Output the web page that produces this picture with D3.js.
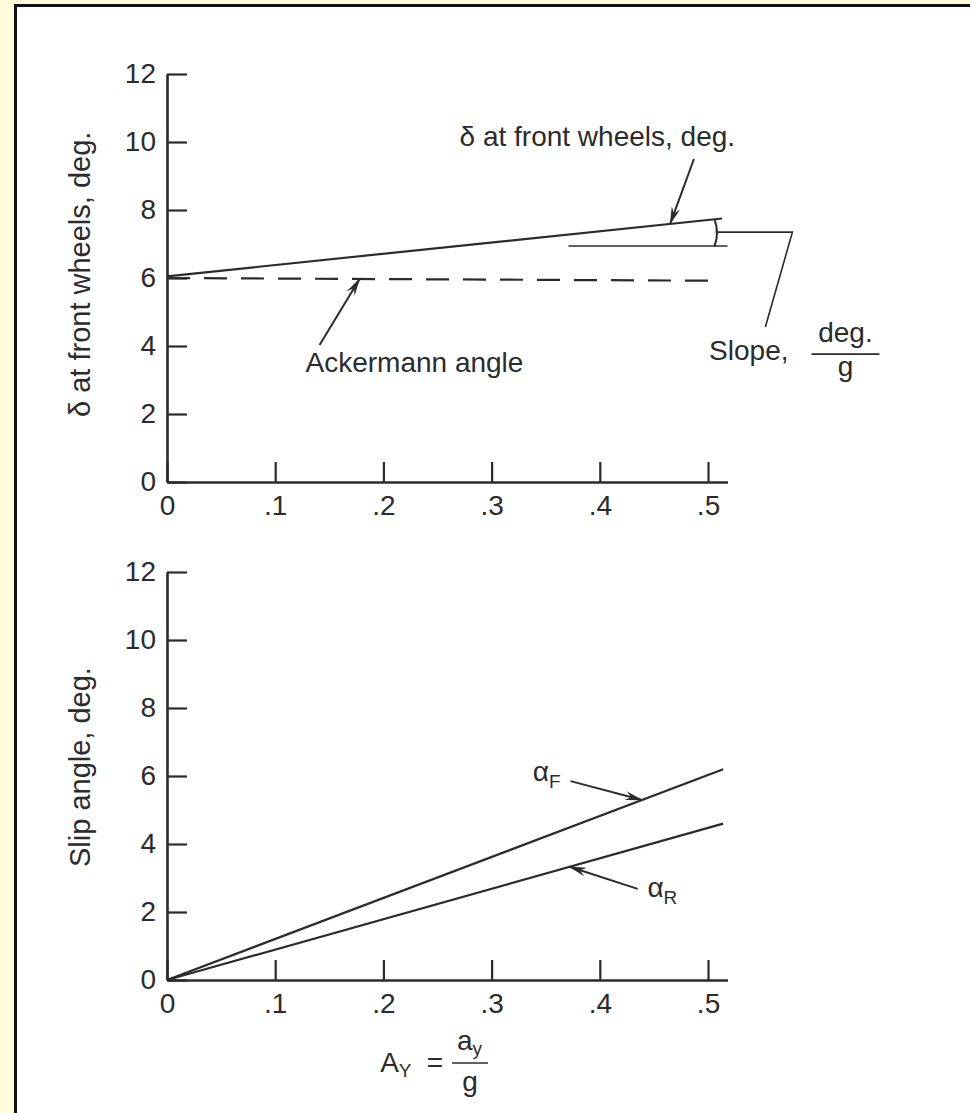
<!DOCTYPE html>
<html>
<head>
<meta charset="utf-8">
<script src="https://cdn.jsdelivr.net/npm/d3@7"></script>
<style>
    body {
        margin: 0;
        padding: 0;
        background: #fffcdc;
        font-family: "Liberation Sans", Arial, sans-serif;
    }
    svg { display: block; }
    text {
        fill: #2b2b2b;
        font-size: 28px;
        font-family: "Liberation Sans", Arial, sans-serif;
    }
    .ylabel { font-size: 29px; }
    .sub { font-size: 19px; }
</style>
</head>
<body>
<script>
    var AY_TICKS = [0, 0.1, 0.2, 0.3, 0.4, 0.5];
    var AY_LABELS = ["0", ".1", ".2", ".3", ".4", ".5"];
    var DEG_TICKS = [0, 2, 4, 6, 8, 10, 12];

    // top panel: steer angle at the front wheels vs lateral acceleration
    var steerAy = [0, 0.513];
    var steerDelta = [6.05, 7.75];
    var ackermannAy = [0, 0.505];
    var ackermannDelta = [6.0, 5.92];

    // bottom panel: slip angles
    var slipAy = [0, 0.514];
    var alphaF = [0, 6.2];
    var alphaR = [0, 4.6];

    var INK = "#2b2b2b";

    var svg = d3.select("body").append("svg")
        .attr("width", 970)
        .attr("height", 1113);

    // frame: black rule on top and left, white sheet
    svg.append("rect").attr("x", 14).attr("y", 4).attr("width", 956).attr("height", 1109).attr("fill", "#111");
    svg.append("rect").attr("x", 17).attr("y", 7).attr("width", 953).attr("height", 1106).attr("fill", "#fff");

    svg.append("defs").append("marker")
        .attr("id", "arrow")
        .attr("viewBox", "0 0 18 9")
        .attr("refX", 17)
        .attr("refY", 4.5)
        .attr("markerUnits", "userSpaceOnUse")
        .attr("markerWidth", 18)
        .attr("markerHeight", 9)
        .attr("orient", "auto")
        .append("path")
        .attr("d", "M0,0 L18,4.5 L0,9 L6,4.5 Z")
        .attr("fill", INK);

    var x = d3.scaleLinear().domain([0, 0.518]).range([167, 727.5]);
    var yTop = d3.scaleLinear().domain([0, 12]).range([482, 74]);
    var yBot = d3.scaleLinear().domain([0, 12]).range([980, 572]);

    function drawAxes(y) {
        var gx = svg.append("g")
            .attr("transform", "translate(0," + y(0) + ")")
            .call(d3.axisBottom(x)
                .tickValues(AY_TICKS)
                .tickFormat(function(d, i) { return AY_LABELS[i]; })
                .tickSize(-20)
                .tickSizeOuter(0)
                .tickPadding(13));
        var gy = svg.append("g")
            .attr("transform", "translate(" + x(0) + ",0)")
            .call(d3.axisLeft(y)
                .tickValues(DEG_TICKS)
                .tickFormat(d3.format("d"))
                .tickSize(-20)
                .tickSizeOuter(0)
                .tickPadding(11));
        [gx, gy].forEach(function(g) {
            g.select(".domain").attr("stroke", INK).attr("stroke-width", 2.6);
            g.selectAll(".tick line").attr("stroke", INK).attr("stroke-width", 2.2);
        });
    }

    function pairs(xs, ys) {
        return xs.map(function(v, i) { return [v, ys[i]]; });
    }

    function drawLine(xs, ys, y, dash) {
        svg.append("path")
            .datum(pairs(xs, ys))
            .attr("fill", "none")
            .attr("stroke", INK)
            .attr("stroke-width", 2.2)
            .attr("stroke-dasharray", dash || null)
            .attr("d", d3.line().x(function(d) { return x(d[0]); }).y(function(d) { return y(d[1]); }));
    }

    function lerp(xs, ys, v) {
        return ys[0] + (ys[1] - ys[0]) * (v - xs[0]) / (xs[1] - xs[0]);
    }

    function arrow(y, a0, d0, a1, d1) {
        svg.append("line")
            .attr("x1", x(a0)).attr("y1", y(d0))
            .attr("x2", x(a1)).attr("y2", y(d1))
            .attr("stroke", INK)
            .attr("stroke-width", 2)
            .attr("marker-end", "url(#arrow)");
    }

    // ---- top panel ----
    drawAxes(yTop);
    drawLine(steerAy, steerDelta, yTop);
    drawLine(ackermannAy, ackermannDelta, yTop, "23,14");

    svg.append("text")
        .attr("class", "ylabel")
        .attr("transform", "translate(90," + 417 + ") rotate(-90)")
        .text("δ at front wheels, deg.");

    svg.append("text")
        .attr("x", x(0.525)).attr("y", yTop(9.88))
        .attr("text-anchor", "end")
        .text("δ at front wheels, deg.");
    arrow(yTop, 0.487, 9.5, 0.465, lerp(steerAy, steerDelta, 0.465));

    svg.append("text")
        .attr("x", x(0.128)).attr("y", yTop(3.24))
        .text("Ackermann angle");
    arrow(yTop, 0.141, 4.03, 0.178, lerp(ackermannAy, ackermannDelta, 0.178));

    // slope construction
    var refLevel = 6.94;
    svg.append("line")
        .attr("x1", x(0.371)).attr("y1", yTop(refLevel))
        .attr("x2", x(0.518)).attr("y2", yTop(refLevel))
        .attr("stroke", INK).attr("stroke-width", 1.6);
    var arcX = x(0.506);
    var arcTop = yTop(lerp(steerAy, steerDelta, 0.506));
    var arcBot = yTop(refLevel);
    svg.append("path")
        .attr("d", "M" + arcX + "," + arcTop + " Q" + (arcX + 5) + "," + ((arcTop + arcBot) / 2) + " " + arcX + "," + arcBot)
        .attr("fill", "none").attr("stroke", INK).attr("stroke-width", 2);
    svg.append("path")
        .attr("d", d3.line()([[x(0.507), yTop(7.35)], [x(0.578), yTop(7.35)], [x(0.553), yTop(4.56)]]))
        .attr("fill", "none").attr("stroke", INK).attr("stroke-width", 1.6);

    svg.append("text")
        .attr("x", x(0.501)).attr("y", yTop(3.59))
        .text("Slope,");
    var fx = x(0.627);
    svg.append("text").attr("x", fx).attr("y", yTop(4.12)).attr("text-anchor", "middle").text("deg.");
    svg.append("line")
        .attr("x1", fx - 34).attr("x2", fx + 34)
        .attr("y1", yTop(3.76)).attr("y2", yTop(3.76))
        .attr("stroke", INK).attr("stroke-width", 1.6);
    svg.append("text").attr("x", fx).attr("y", yTop(3.12)).attr("text-anchor", "middle").text("g");

    // ---- bottom panel ----
    drawAxes(yBot);
    drawLine(slipAy, alphaF, yBot);
    drawLine(slipAy, alphaR, yBot);

    svg.append("text")
        .attr("class", "ylabel")
        .attr("transform", "translate(90," + 867 + ") rotate(-90)")
        .text("Slip angle, deg.");

    var tF = svg.append("text").attr("x", x(0.338)).attr("y", yBot(5.85));
    tF.append("tspan").text("α");
    tF.append("tspan").attr("class", "sub").attr("dy", 7).text("F");
    arrow(yBot, 0.373, 5.85, 0.439, lerp(slipAy, alphaF, 0.439));

    var tR = svg.append("text").attr("x", x(0.444)).attr("y", yBot(2.44));
    tR.append("tspan").text("α");
    tR.append("tspan").attr("class", "sub").attr("dy", 7).text("R");
    arrow(yBot, 0.435, 2.68, 0.372, lerp(slipAy, alphaR, 0.372));

    // x axis title  A_Y = a_y / g
    var t = svg.append("text").attr("x", x(0.197)).attr("y", 1072);
    t.append("tspan").text("A");
    t.append("tspan").attr("class", "sub").attr("dy", 5).text("Y");
    svg.append("text").attr("x", x(0.24)).attr("y", 1072).text("=");
    var fbx = x(0.280);
    svg.append("line")
        .attr("x1", fbx - 18).attr("x2", fbx + 18)
        .attr("y1", 1063).attr("y2", 1063)
        .attr("stroke", INK).attr("stroke-width", 1.6);
    var ta = svg.append("text").attr("x", fbx - 13).attr("y", 1050);
    ta.append("tspan").text("a");
    ta.append("tspan").attr("class", "sub").attr("dy", 5).text("y");
    svg.append("text").attr("x", fbx).attr("y", 1091).attr("text-anchor", "middle").text("g");
</script>
</body>
</html>
